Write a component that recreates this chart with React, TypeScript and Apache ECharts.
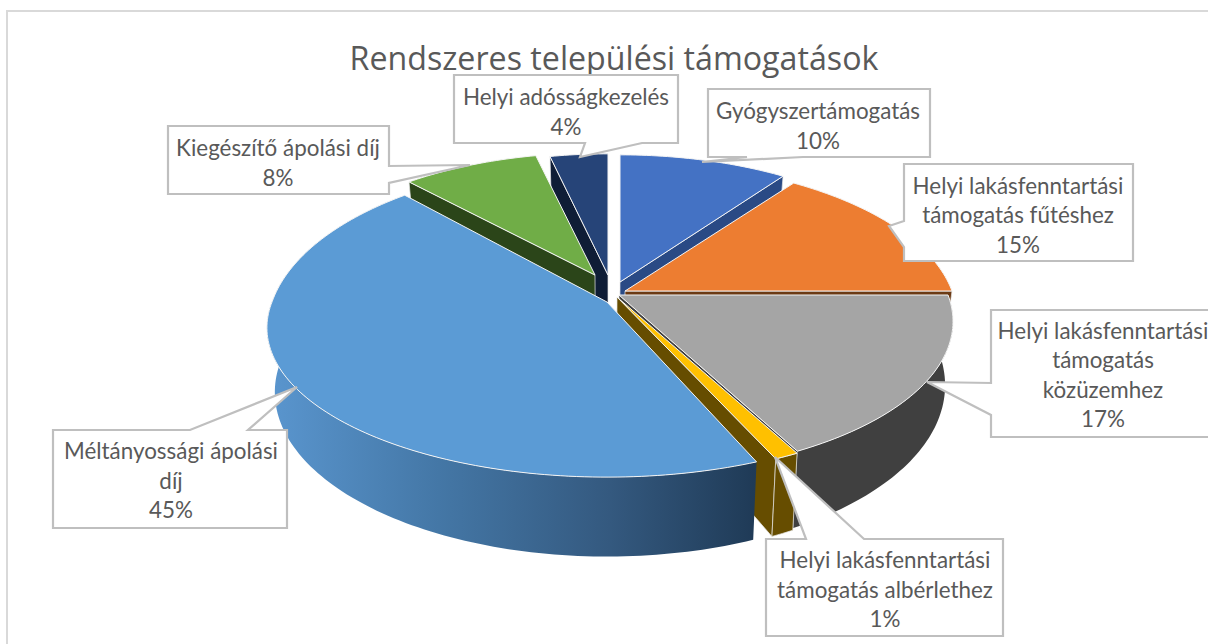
import React, { useEffect, useRef } from "react";
import * as echarts from "echarts";

const TITLE = "Rendszeres települési támogatások";

// Clockwise from 12 o'clock
const CATEGORIES = [
  "Gyógyszertámogatás",
  "Helyi lakásfenntartási\ntámogatás fűtéshez",
  "Helyi lakásfenntartási\ntámogatás\nközüzemhez",
  "Helyi lakásfenntartási\ntámogatás albérlethez",
  "Méltányossági ápolási\ndíj",
  "Kiegészítő ápolási díj",
  "Helyi adósságkezelés",
];
const VALUES = [10, 15, 17.4, 1, 44.7, 8.3, 3.6];

const TOP_COLORS = ["#4472C4", "#ED7D31", "#A5A5A5", "#FFC000", "#5B9BD5", "#70AD47", "#264478"];
const WALL_COLORS = ["#2A4A85", "#6B3A14", "#404040", "#664D00", "#2A4A6B", "#2B4519", "#0F1D36"];
const RIM_COLORS = ["#2A4A85", "#6B3A14", "#404040", "#664D00", "", "#2B4519", "#0F1D36"];

// Back to front
const PAINT_ORDER = [6, 0, 5, 1, 2, 3, 4];

// Layout of each exploded slice: apex position, radii, angular inset of the start edge
const APEX_X = [620, 625, 619, 617, 607, 595, 608];
const APEX_Y = [282, 291, 295, 297, 302, 275, 275];
const RADIUS_X = [316, 327, 329, 332, 335, 308, 302];
const RADIUS_Y_FAR = [149, 152, 149, 149, 164, 143, 142];
const RADIUS_Y_NEAR = [149, 149, 149, 149, 145, 149, 149];
const START_INSET = [0, 0, 0, 0, 0.03, 0, 0];

const PERSPECTIVE = 0.172;
const AXIS_X = 610;
const AXIS_Y = 293;

function topPoint(i: number, t: number): number[] {
  const u = Math.sin(t);
  const v = Math.cos(t);
  const w = 1 + PERSPECTIVE * v;
  const ry = v > 0 ? RADIUS_Y_FAR[i] : RADIUS_Y_NEAR[i];
  return [APEX_X[i] + (RADIUS_X[i] * u) / w, APEX_Y[i] - (ry * v) / w];
}
function drop(p: number[]): number[] {
  return [AXIS_X + (p[0] - AXIS_X) * 0.977, p[1] + 61 + (p[1] - AXIS_Y) * 0.1];
}

const TOTAL = VALUES.reduce((a, b) => a + b, 0);
const sliceAngles = VALUES.map((_, i) => {
  const before = VALUES.slice(0, i).reduce((a, b) => a + b, 0);
  return [(before / TOTAL) * Math.PI * 2 + START_INSET[i], ((before + VALUES[i]) / TOTAL) * Math.PI * 2];
});

function arc(i: number, a: number, b: number): number[][] {
  const n = Math.max(2, Math.ceil(Math.abs(b - a) / 0.02));
  const pts: number[][] = [];
  for (let k = 0; k <= n; k++) pts.push(topPoint(i, a + ((b - a) * k) / n));
  return pts;
}

function renderSlice(params: any) {
  const i = PAINT_ORDER[params.dataIndex];
  const rank = params.dataIndex * 10;
  const [a, b] = sliceAngles[i];
  const apex = [APEX_X[i], APEX_Y[i]];
  const topArc = arc(i, a, b);
  const first = topArc[0];
  const last = topArc[topArc.length - 1];
  const inner = topPoint(i, (a + b) / 2);
  const children: any[] = [];
  // A cut wall shows only when dropping it moves away from the slice's own top face
  const faces = (p: number[]) => {
    const dx = p[0] - apex[0];
    const dy = p[1] - apex[1];
    const sideOfDrop = dx; // cross((dx,dy),(0,1))
    const sideOfInner = dx * (inner[1] - apex[1]) - dy * (inner[0] - apex[0]);
    return sideOfDrop * sideOfInner < 0;
  };
  const wall = (p: number[], z: number) => ({
    type: "polygon",
    z2: rank + z,
    shape: { points: [apex, p, drop(p), drop(apex)] },
    style: { fill: WALL_COLORS[i], stroke: "#E8E8E8", lineWidth: 0.7 },
  });
  if (faces(first)) children.push(wall(first, 0));
  if (faces(last)) children.push(wall(last, 1));
  const ra = Math.max(a, Math.PI / 2);
  const rb = Math.min(b, (Math.PI * 3) / 2);
  if (rb > ra) {
    const rim = arc(i, ra, rb);
    const fill = RIM_COLORS[i]
      ? RIM_COLORS[i]
      : new (echarts as any).graphic.LinearGradient(
          267,
          0,
          757,
          0,
          [
            { offset: 0, color: "#5A96CF" },
            { offset: 0.35, color: "#4477A6" },
            { offset: 0.7, color: "#34597F" },
            { offset: 1, color: "#1F3A56" },
          ],
          true
        );
    children.push({
      type: "polygon",
      z2: rank + 2,
      shape: { points: rim.concat(rim.map(drop).reverse()) },
      style: { fill, stroke: i === 3 ? "#E8E8E8" : undefined, lineWidth: i === 3 ? 0.7 : 0 },
    });
  }
  children.push({
    type: "polygon",
    z2: rank + 3,
    shape: { points: [apex].concat(topArc) },
    style: { fill: TOP_COLORS[i], stroke: "#F4F4F4", lineWidth: 1 },
  });
  return { type: "group", children };
}

// Callout shapes
const CALLOUTS: { idx: number; points: number[][]; x: number; y: number }[] = [
  { idx: 0, x: 818, y: 125.5, points: [[708, 89], [930, 89], [930, 157], [803, 157], [702, 162], [747, 157], [708, 157]] },
  { idx: 1, x: 1018, y: 214.5, points: [[904, 164], [1133, 164], [1133, 261], [904, 261], [904, 247], [889, 226], [904, 221]] },
  { idx: 2, x: 1103, y: 374.5, points: [[991, 310], [1215, 310], [1215, 437], [991, 437], [991, 415], [927, 382], [991, 383]] },
  { idx: 3, x: 885, y: 589, points: [[766, 539], [806, 539], [775, 457], [864, 539], [1003, 539], [1003, 636], [766, 636]] },
  { idx: 4, x: 171, y: 480, points: [[53, 430], [190, 430], [297, 387], [248, 430], [287, 430], [287, 528], [53, 528]] },
  { idx: 5, x: 278, y: 162.5, points: [[168, 126], [389, 126], [389, 166], [470, 165], [389, 183], [389, 194], [168, 194]] },
  { idx: 6, x: 566, y: 111.5, points: [[454, 75], [678, 75], [678, 143], [642, 143], [580, 157], [585, 143], [454, 143]] },
];

const labelText = (i: number) => `${CATEGORIES[i]}\n${Math.round(VALUES[i])}%`;

export default function App() {
  const ref = useRef<HTMLDivElement>(null);
  useEffect(() => {
    document.body.style.margin = "0";
    const chart = echarts.init(ref.current!, null, { renderer: "svg" });
    chart.setOption({
      animation: false,
      backgroundColor: "#FFFFFF",
      series: [
        {
          type: "custom",
          coordinateSystem: "none",
          renderItem: renderSlice,
          data: PAINT_ORDER.map((i) => [VALUES[i]]),
          silent: true,
          z: 2,
        },
      ],
      graphic: [
        {
          type: "polyline",
          z: 1,
          shape: { points: [[7, 644], [7, 11], [1208, 11]] },
          style: { stroke: "#D9D9D9", lineWidth: 2, fill: "none" },
        },
        {
          type: "text",
          z: 10,
          x: 614,
          y: 57,
          style: {
            text: TITLE,
            font: "32.2px 'Open Sans'",
            fill: "#595959",
            align: "center",
            verticalAlign: "middle",
          },
        },
        ...CALLOUTS.flatMap((c) => [
          {
            type: "polygon",
            z: 10,
            shape: { points: c.points },
            style: { fill: "#FFFFFF", stroke: "#BFBFBF", lineWidth: 2.2 },
          },
          {
            type: "text",
            z: 11,
            x: c.x,
            y: c.y,
            style: {
              text: labelText(c.idx),
              font: "22.4px Lato",
              lineHeight: 29.5,
              fill: "#595959",
              align: "center",
              verticalAlign: "middle",
            },
          },
        ]),
      ],
    });
    return () => chart.dispose();
  }, []);
  return <div ref={ref} style={{ position: "absolute", left: 0, top: 0, width: 1208, height: 644 }} />;
}
